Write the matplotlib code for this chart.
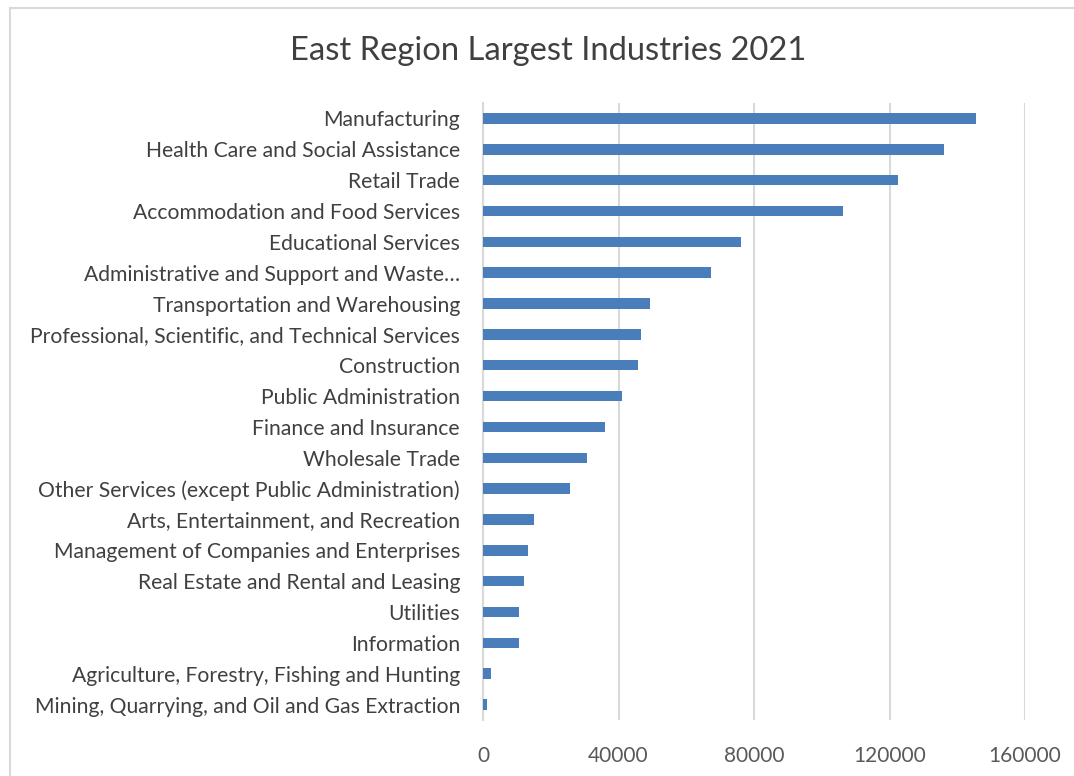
import matplotlib
matplotlib.use("Agg")
import matplotlib.pyplot as plt
from matplotlib.lines import Line2D

industries = [
    "Manufacturing",
    "Health Care and Social Assistance",
    "Retail Trade",
    "Accommodation and Food Services",
    "Educational Services",
    "Administrative and Support and Waste\u2026",
    "Transportation and Warehousing",
    "Professional, Scientific, and Technical Services",
    "Construction",
    "Public Administration",
    "Finance and Insurance",
    "Wholesale Trade",
    "Other Services (except Public Administration)",
    "Arts, Entertainment, and Recreation",
    "Management of Companies and Enterprises",
    "Real Estate and Rental and Leasing",
    "Utilities",
    "Information",
    "Agriculture, Forestry, Fishing and Hunting",
    "Mining, Quarrying, and Oil and Gas Extraction",
]
jobs = [145600, 136000, 122600, 106300, 76300, 67200, 49200, 46500, 45700, 40900,
        35900, 30800, 25700, 15200, 13300, 12000, 10700, 10700, 2500, 1300]
x_ticks = [0, 40000, 80000, 120000, 160000]
title = "East Region Largest Industries 2021"

plt.rcParams['font.family'] = ['Lato', 'DejaVu Sans']

fig = plt.figure(figsize=(10.74, 7.76), dpi=100)
ax = fig.add_axes([483/1074, 1 - 720/776, (1025 - 483)/1074, (720 - 103)/776])

pos = list(range(len(industries)))
ax.barh(pos, jobs, height=0.34, color='#4A7EBB', zorder=3)
ax.set_ylim(len(industries) - 0.5, -0.5)
ax.set_yticks(pos)
ax.set_yticklabels(industries, fontsize=15.2, color='#404040')
ax.set_xlim(0, 160000)
ax.set_xticks(x_ticks)
ax.set_xticklabels([str(t) for t in x_ticks], fontsize=15, color='#595959')
ax.tick_params(axis='y', length=0, pad=16.5)
ax.tick_params(axis='x', length=0, pad=19)
ax.grid(axis='x', color='#d9d9d9', linewidth=1.5, zorder=0)
for s in ['top', 'right', 'bottom']:
    ax.spines[s].set_visible(False)
ax.spines['left'].set_color('#d9d9d9')
ax.spines['left'].set_linewidth(1.5)

fig.text(548/1074, 1 - 51/776, title, ha='center', va='center', fontsize=23.6, color='#404040')

# chart border (cropped on right/bottom)
fig.add_artist(Line2D([10/1074, 1], [1 - 8/776, 1 - 8/776], transform=fig.transFigure, color='#d9d9d9', linewidth=1.5))
fig.add_artist(Line2D([10/1074, 10/1074], [0, 1 - 8/776], transform=fig.transFigure, color='#d9d9d9', linewidth=1.5))

fig.savefig("out.png", dpi=100, facecolor='white')
